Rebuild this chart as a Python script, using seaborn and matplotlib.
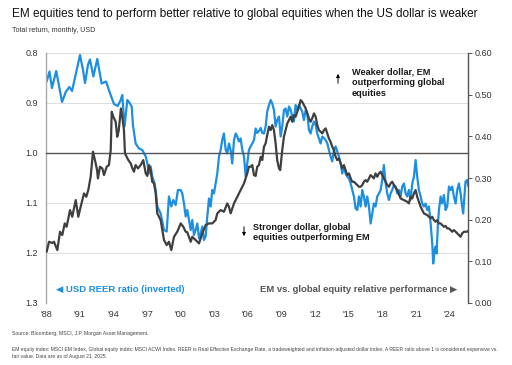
import pandas as pd
import matplotlib.pyplot as plt
import seaborn as sns

# USD REER ratio (left axis, inverted)
reer_year = [1988.06, 1988.31, 1988.53, 1988.91, 1989.43, 1989.76, 1990.08, 1990.32, 1990.67, 1991.03,
             1991.30, 1991.48, 1991.74, 1991.92, 1992.22, 1992.57, 1992.96, 1993.35, 1993.70, 1994.06,
             1994.39, 1994.66, 1994.80, 1995.00, 1995.25, 1995.40, 1995.64, 1995.75, 1995.99, 1996.29,
             1996.58, 1996.89, 1997.03, 1997.18, 1997.33, 1997.47, 1997.63, 1997.78, 1997.92, 1998.22,
             1998.52, 1998.76, 1998.96, 1999.17, 1999.35, 1999.56, 1999.76, 2000.01, 2000.15, 2000.30,
             2000.45, 2000.59, 2000.75, 2000.90, 2001.04, 2001.19, 2001.34, 2001.49, 2001.64, 2001.79,
             2001.93, 2002.08, 2002.23, 2002.38, 2002.53, 2002.68, 2002.82, 2002.97, 2003.12, 2003.27,
             2003.42, 2003.57, 2003.71, 2003.86, 2004.02, 2004.16, 2004.31, 2004.46, 2004.60, 2004.76,
             2004.91, 2005.05, 2005.20, 2005.35, 2005.50, 2005.65, 2005.80, 2005.94, 2006.09, 2006.24,
             2006.39, 2006.54, 2006.69, 2006.83, 2006.98, 2007.14, 2007.28, 2007.43, 2007.58, 2007.72,
             2007.88, 2008.03, 2008.17, 2008.32, 2008.47, 2008.61, 2008.77, 2008.92, 2009.06, 2009.21,
             2009.36, 2009.51, 2009.66, 2009.81, 2009.95, 2010.10, 2010.25, 2010.40, 2010.55, 2010.70,
             2010.84, 2010.99, 2011.15, 2011.29, 2011.44, 2011.59, 2011.73, 2011.89, 2012.04, 2012.18,
             2012.33, 2012.48, 2012.63, 2012.78, 2012.93, 2013.07, 2013.22, 2013.37, 2013.52, 2013.67,
             2013.82, 2013.96, 2014.11, 2014.27, 2014.41, 2014.56, 2014.71, 2014.85, 2015.01, 2015.16,
             2015.30, 2015.45, 2015.60, 2015.75, 2015.90, 2016.05, 2016.19, 2016.34, 2016.49, 2016.64,
             2016.79, 2016.94, 2017.08, 2017.23, 2017.38, 2017.53, 2017.68, 2017.83, 2017.97, 2018.12,
             2018.28, 2018.42, 2018.57, 2018.72, 2018.86, 2019.02, 2019.17, 2019.31, 2019.46, 2019.61,
             2019.76, 2019.91, 2020.06, 2020.20, 2020.35, 2020.50, 2020.65, 2020.80, 2020.95, 2021.09,
             2021.24, 2021.40, 2021.54, 2021.69, 2021.84, 2021.98, 2022.14, 2022.29, 2022.43, 2022.52,
             2022.64, 2022.73, 2022.82, 2022.94, 2023.03, 2023.18, 2023.32, 2023.47, 2023.62, 2023.77,
             2023.92, 2024.07, 2024.21, 2024.36, 2024.52, 2024.66, 2024.81, 2024.96, 2025.10, 2025.19,
             2025.32, 2025.40, 2025.55, 2025.66]
reer_ratio = [0.857, 0.837, 0.870, 0.836, 0.898, 0.878, 0.868, 0.876, 0.840, 0.804,
              0.834, 0.860, 0.824, 0.813, 0.847, 0.812, 0.861, 0.857, 0.880, 0.902,
              0.906, 0.894, 0.884, 0.947, 0.894, 0.898, 0.907, 0.944, 0.981, 0.991,
              0.994, 1.007, 1.020, 1.041, 1.027, 1.047, 1.057, 1.074, 1.107, 1.121,
              1.154, 1.157, 1.087, 1.107, 1.094, 1.104, 1.074, 1.074, 1.081, 1.101,
              1.127, 1.114, 1.134, 1.154, 1.134, 1.164, 1.154, 1.141, 1.171, 1.161,
              1.147, 1.174, 1.167, 1.127, 1.091, 1.107, 1.074, 1.081, 1.061, 1.041,
              1.007, 0.994, 0.974, 0.961, 0.994, 1.001, 0.981, 0.994, 1.021, 0.974,
              0.961, 0.967, 0.977, 0.971, 0.994, 1.007, 1.047, 1.021, 0.994, 0.987,
              0.981, 0.974, 0.951, 0.960, 0.956, 0.950, 0.960, 0.961, 0.947, 0.917,
              0.904, 0.894, 0.901, 0.914, 0.947, 0.934, 0.927, 0.967, 0.947, 0.914,
              0.911, 0.927, 0.907, 0.914, 0.927, 0.937, 0.904, 0.914, 0.904, 0.911,
              0.917, 0.934, 0.914, 0.921, 0.954, 0.961, 0.947, 0.937, 0.944, 0.961,
              0.971, 0.981, 0.967, 0.970, 0.974, 0.980, 0.994, 1.007, 1.017, 0.994,
              0.987, 0.997, 1.007, 1.021, 1.041, 1.027, 1.041, 1.047, 1.051, 1.061,
              1.074, 1.087, 1.111, 1.114, 1.087, 1.107, 1.074, 1.087, 1.107, 1.087,
              1.107, 1.141, 1.121, 1.101, 1.107, 1.087, 1.081, 1.074, 1.054, 1.024,
              1.061, 1.081, 1.094, 1.081, 1.074, 1.064, 1.067, 1.081, 1.074, 1.087,
              1.067, 1.061, 1.081, 1.087, 1.074, 1.094, 1.061, 1.047, 1.014, 1.047,
              1.074, 1.087, 1.101, 1.107, 1.101, 1.114, 1.107, 1.141, 1.181, 1.221,
              1.194, 1.187, 1.201, 1.141, 1.114, 1.087, 1.101, 1.084, 1.114, 1.107,
              1.067, 1.074, 1.067, 1.087, 1.101, 1.074, 1.061, 1.081, 1.107, 1.121,
              1.081, 1.057, 1.054, 1.067]

# EM vs global equity relative performance (right axis)
em_year = [1988.06, 1988.27, 1988.56, 1988.71, 1989.01, 1989.25, 1989.45, 1989.67, 1989.84, 1990.14,
           1990.34, 1990.65, 1990.88, 1991.09, 1991.39, 1991.59, 1991.77, 1991.98, 1992.19, 1992.43,
           1992.55, 1992.63, 1992.81, 1993.02, 1993.17, 1993.41, 1993.61, 1993.77, 1993.86, 1994.00,
           1994.21, 1994.35, 1994.48, 1994.68, 1994.80, 1994.95, 1995.04, 1995.19, 1995.34, 1995.55,
           1995.69, 1995.84, 1995.99, 1996.20, 1996.44, 1996.67, 1996.89, 1997.03, 1997.18, 1997.33,
           1997.47, 1997.63, 1997.78, 1997.92, 1998.22, 1998.52, 1998.76, 1998.96, 1999.17, 1999.41,
           1999.70, 2000.01, 2000.24, 2000.45, 2000.59, 2000.90, 2001.04, 2001.34, 2001.64, 2001.93,
           2002.23, 2002.53, 2002.82, 2003.12, 2003.27, 2003.57, 2003.86, 2004.16, 2004.31, 2004.46,
           2004.76, 2005.05, 2005.35, 2005.65, 2005.94, 2006.09, 2006.24, 2006.39, 2006.54, 2006.69,
           2006.83, 2006.98, 2007.14, 2007.28, 2007.43, 2007.58, 2007.72, 2007.88, 2008.03, 2008.17,
           2008.32, 2008.47, 2008.61, 2008.77, 2008.88, 2008.97, 2009.06, 2009.21, 2009.36, 2009.51,
           2009.66, 2009.81, 2009.95, 2010.10, 2010.25, 2010.40, 2010.55, 2010.70, 2010.84, 2010.99,
           2011.15, 2011.29, 2011.44, 2011.59, 2011.73, 2011.89, 2012.04, 2012.18, 2012.33, 2012.48,
           2012.63, 2012.78, 2012.93, 2013.07, 2013.22, 2013.37, 2013.52, 2013.67, 2013.82, 2013.96,
           2014.11, 2014.27, 2014.41, 2014.56, 2014.71, 2014.85, 2015.01, 2015.16, 2015.30, 2015.45,
           2015.60, 2015.75, 2015.90, 2016.05, 2016.19, 2016.34, 2016.49, 2016.64, 2016.79, 2016.94,
           2017.08, 2017.23, 2017.38, 2017.53, 2017.68, 2017.83, 2017.97, 2018.12, 2018.28, 2018.42,
           2018.57, 2018.72, 2018.86, 2019.02, 2019.31, 2019.61, 2019.91, 2020.20, 2020.35, 2020.50,
           2020.65, 2020.80, 2020.95, 2021.09, 2021.24, 2021.40, 2021.54, 2021.69, 2021.98, 2022.14,
           2022.29, 2022.43, 2022.58, 2022.73, 2022.87, 2023.03, 2023.18, 2023.32, 2023.47, 2023.62,
           2023.77, 2023.92, 2024.07, 2024.21, 2024.36, 2024.52, 2024.66, 2024.81, 2024.96, 2025.10,
           2025.26, 2025.40, 2025.55, 2025.66]
em_rel = [0.123, 0.147, 0.144, 0.147, 0.127, 0.171, 0.163, 0.191, 0.183, 0.223,
          0.207, 0.247, 0.207, 0.231, 0.263, 0.255, 0.271, 0.303, 0.363, 0.335,
          0.319, 0.299, 0.327, 0.323, 0.307, 0.327, 0.331, 0.367, 0.459, 0.447,
          0.435, 0.399, 0.413, 0.467, 0.447, 0.415, 0.359, 0.351, 0.343, 0.335,
          0.324, 0.315, 0.331, 0.323, 0.331, 0.343, 0.311, 0.305, 0.331, 0.319,
          0.291, 0.287, 0.263, 0.215, 0.199, 0.151, 0.139, 0.147, 0.127, 0.159,
          0.171, 0.191, 0.183, 0.171, 0.170, 0.147, 0.159, 0.151, 0.143, 0.167,
          0.187, 0.191, 0.191, 0.199, 0.215, 0.223, 0.219, 0.239, 0.231, 0.215,
          0.239, 0.255, 0.271, 0.287, 0.311, 0.327, 0.327, 0.331, 0.307, 0.305,
          0.327, 0.331, 0.351, 0.343, 0.375, 0.383, 0.403, 0.423, 0.415, 0.427,
          0.415, 0.383, 0.343, 0.323, 0.319, 0.343, 0.367, 0.399, 0.415, 0.431,
          0.439, 0.447, 0.435, 0.451, 0.447, 0.459, 0.471, 0.487, 0.483, 0.475,
          0.467, 0.455, 0.443, 0.435, 0.443, 0.455, 0.447, 0.427, 0.415, 0.411,
          0.407, 0.415, 0.419, 0.407, 0.395, 0.387, 0.375, 0.367, 0.351, 0.343,
          0.347, 0.335, 0.323, 0.331, 0.319, 0.307, 0.311, 0.299, 0.291, 0.291,
          0.287, 0.283, 0.279, 0.279, 0.283, 0.291, 0.295, 0.291, 0.299, 0.307,
          0.303, 0.299, 0.311, 0.303, 0.311, 0.315, 0.307, 0.299, 0.291, 0.283,
          0.279, 0.287, 0.291, 0.283, 0.271, 0.251, 0.247, 0.243, 0.239, 0.255,
          0.251, 0.263, 0.271, 0.255, 0.243, 0.231, 0.223, 0.215, 0.211, 0.207,
          0.203, 0.207, 0.199, 0.195, 0.199, 0.191, 0.191, 0.187, 0.183, 0.185,
          0.179, 0.179, 0.175, 0.171, 0.175, 0.171, 0.167, 0.163, 0.159, 0.167,
          0.171, 0.171, 0.171, 0.174]

year_ticks = [1988, 1991, 1994, 1997, 2000, 2003, 2006, 2009, 2012, 2015, 2018, 2021, 2024]
year_labels = ["'88", "'91", "'94", "'97", "'00", "'03", "'06", "'09", "'12", "'15", "'18", "'21", "'24"]
left_ticks = [0.8, 0.9, 1.0, 1.1, 1.2, 1.3]
right_ticks = [0.0, 0.1, 0.2, 0.3, 0.4, 0.5, 0.6]

sns.set_style('white')
plt.rcParams['font.family'] = ['Liberation Sans', 'DejaVu Sans']

BLUE = '#1d8fe1'
DARK = '#3f3f3f'
TXT = '#333333'

fig = plt.figure(figsize=(5.12, 3.65), dpi=100)
ax = fig.add_axes([46 / 512, 1 - 303 / 365, 422 / 512, 250 / 365])

reer = pd.DataFrame({'year': reer_year, 'ratio': reer_ratio})
sns.lineplot(data=reer, x='year', y='ratio', color=BLUE, lw=1.6, estimator=None, ax=ax)
ax.set_xlim(1988.0, 2025.62)
ax.set_ylim(1.3, 0.8)
ax.set_yticks(left_ticks)
ax.set_yticklabels([f'{v:.1f}' for v in left_ticks])
ax.set_xlabel('')
ax.set_ylabel('')
ax.grid(axis='y', color='#dddddd', lw=0.8)
ax.set_axisbelow(True)
ax.tick_params(axis='y', length=0, labelsize=6.5, labelcolor=TXT, pad=6)

# x axis drawn at the 1.0 line, labels along the bottom
ax.spines['bottom'].set_position(('data', 1.0))
ax.spines['bottom'].set_color('#555555')
ax.spines['bottom'].set_linewidth(1.0)
ax.spines['top'].set_visible(False)
ax.spines['right'].set_visible(False)
ax.spines['left'].set_color('#aaaaaa')
ax.spines['left'].set_linewidth(1.0)
ax.set_xticks(year_ticks)
ax.tick_params(axis='x', length=2.5, width=0.7, color='#555555', direction='out', labelbottom=False)

sec = ax.secondary_xaxis('bottom')
sec.set_xticks(year_ticks, year_labels)
sec.spines['bottom'].set_visible(False)
sec.tick_params(length=0, labelsize=6.5, labelcolor=TXT, pad=5)

ax2 = ax.twinx()
em = pd.DataFrame({'year': em_year, 'rel': em_rel})
sns.lineplot(data=em, x='year', y='rel', color=DARK, lw=1.6, estimator=None, ax=ax2)
ax2.set_ylim(0, 0.6)
ax2.set_yticks(right_ticks)
ax2.set_yticklabels([f'{v:.2f}' for v in right_ticks])
ax2.set_ylabel('')
ax2.grid(False)
for s in ['top', 'bottom', 'left']:
    ax2.spines[s].set_visible(False)
ax2.spines['right'].set_color('#555555')
ax2.spines['right'].set_linewidth(1.0)
ax2.tick_params(axis='y', length=3, width=0.7, color='#555555', direction='out',
                labelsize=6.5, labelcolor=TXT, pad=2)

# titles
fig.text(12 / 512, 1 - 14 / 365, 'EM equities tend to perform better relative to global equities when the US dollar is weaker',
         fontsize=8.5, color='#111111', va='center', ha='left')
fig.text(12 / 512, 1 - 31 / 365, 'Total return, monthly, USD', fontsize=5.1, color=TXT, va='center', ha='left')

# annotations
fig.text(352 / 512, 1 - 67 / 365, 'Weaker dollar, EM\noutperforming global\nequities', fontsize=6.6,
         fontweight='bold', color='#1a1a1a', va='top', ha='left', linespacing=1.25)
fig.text(253 / 512, 1 - 222.5 / 365, 'Stronger dollar, global\nequities outperforming EM', fontsize=6.6,
         fontweight='bold', color='#1a1a1a', va='top', ha='left', linespacing=1.25)
ax.annotate('', xy=(338 / 512, 1 - 71 / 365), xytext=(338 / 512, 1 - 86 / 365), xycoords='figure fraction',
            arrowprops=dict(arrowstyle='-|>', color='black', lw=0.7, mutation_scale=5))
ax.annotate('', xy=(244 / 512, 1 - 239 / 365), xytext=(244 / 512, 1 - 224 / 365), xycoords='figure fraction',
            arrowprops=dict(arrowstyle='-|>', color='black', lw=0.7, mutation_scale=5))

fig.text(56 / 512, 1 - 289.5 / 365, '\u25C0 USD REER ratio (inverted)', fontsize=6.8, fontweight='bold',
         color=BLUE, va='center', ha='left')
fig.text(457 / 512, 1 - 289.5 / 365, 'EM vs. global equity relative performance \u25B6', fontsize=6.8,
         fontweight='bold', color='#555555', va='center', ha='right')

# footnotes
fig.text(12 / 512, 1 - 334 / 365, 'Source: Bloomberg, MSCI, J.P. Morgan Asset Management.', fontsize=3.7,
         color='#444444', va='center', ha='left')
fig.text(12 / 512, 1 - 347 / 365,
         'EM equity index: MSCI EM Index, Global equity index: MSCI ACWI Index. REER is Real Effective Exchange Rate, '
         'a tradeweighted and inflation-adjusted dollar index. A REER ratio above 1 is considered expensive vs.\n'
         'fair value. Data are as of August 21, 2025.', fontsize=3.65, color='#444444', va='top', ha='left',
         linespacing=1.5)

fig.savefig('out.png', dpi=100)
